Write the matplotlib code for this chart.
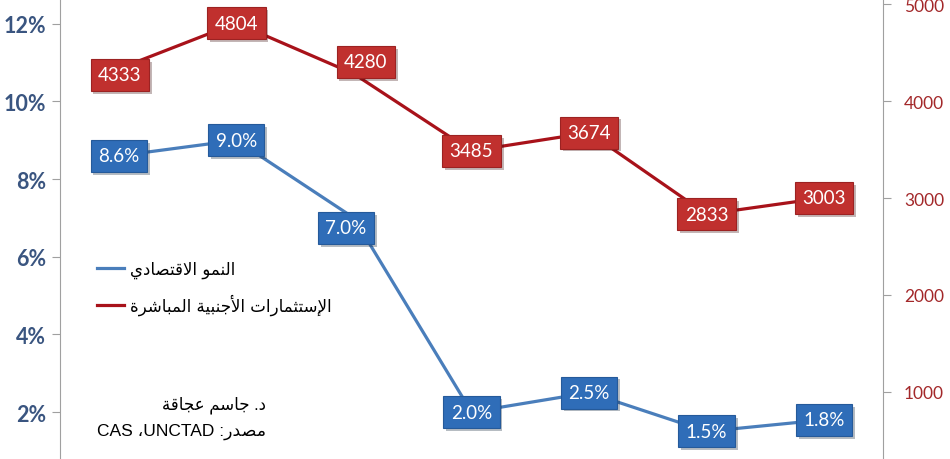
import re
import numpy as np
import matplotlib
matplotlib.use('Agg')
from matplotlib import pyplot as plt
from matplotlib import patheffects as pe

# values (x axis labels are cut off in the source)
growth = [8.6, 9.0, 7.0, 2.0, 2.5, 1.5, 1.8]          # % , left axis
fdi = [4333, 4804, 4280, 3485, 3674, 2833, 3003]      # right axis
left_ticks = [2, 4, 6, 8, 10, 12]
right_ticks = [1000, 2000, 3000, 4000, 5000]

name_growth = 'النمو الاقتصادي'
name_fdi = 'الإستثمارات الأجنبية المباشرة'
author = 'د. جاسم عجاقة'
source = 'مصدر: UNCTAD، CAS'

# matplotlib has no arabic shaping, so map letters to presentation forms
# (iso code point, number of forms: 2 = joins only to the right)
AR_FORMS = {
    'ا': (0xFE8D, 2), 'أ': (0xFE83, 2), 'إ': (0xFE87, 2), 'آ': (0xFE81, 2),
    'ب': (0xFE8F, 4), 'ة': (0xFE93, 2), 'ت': (0xFE95, 4), 'ث': (0xFE99, 4),
    'ج': (0xFE9D, 4), 'ح': (0xFEA1, 4), 'خ': (0xFEA5, 4), 'د': (0xFEA9, 2),
    'ذ': (0xFEAB, 2), 'ر': (0xFEAD, 2), 'ز': (0xFEAF, 2), 'س': (0xFEB1, 4),
    'ش': (0xFEB5, 4), 'ص': (0xFEB9, 4), 'ض': (0xFEBD, 4), 'ط': (0xFEC1, 4),
    'ظ': (0xFEC5, 4), 'ع': (0xFEC9, 4), 'غ': (0xFECD, 4), 'ف': (0xFED1, 4),
    'ق': (0xFED5, 4), 'ك': (0xFED9, 4), 'ل': (0xFEDD, 4), 'م': (0xFEE1, 4),
    'ن': (0xFEE5, 4), 'ه': (0xFEE9, 4), 'و': (0xFEED, 2), 'ى': (0xFEEF, 2),
    'ي': (0xFEF1, 4),
}
LAM_ALEF = {'آ': 0xFEF5, 'أ': 0xFEF7, 'إ': 0xFEF9, 'ا': 0xFEFB}


def shape(text):
    out = []
    i = 0
    while i < len(text):
        c = text[i]
        if c not in AR_FORMS:
            out.append(c)
            i += 1
            continue
        prev = text[i - 1] if i > 0 else ''
        nxt = text[i + 1] if i + 1 < len(text) else ''
        joins_prev = prev in AR_FORMS and AR_FORMS[prev][1] == 4
        if c == 'ل' and nxt in LAM_ALEF:
            out.append(chr(LAM_ALEF[nxt] + int(joins_prev)))
            i += 2
            continue
        base, n = AR_FORMS[c]
        joins_next = n == 4 and nxt in AR_FORMS
        k = {(False, False): 0, (True, False): 1,
             (False, True): 2, (True, True): 3}[(joins_prev, joins_next)]
        out.append(chr(base + k))
        i += 1
    return ''.join(out)


def visual(text):
    s = shape(text)[::-1]
    # latin runs keep their own reading order
    return re.sub(r'[A-Za-z0-9]+', lambda m: m.group(0)[::-1], s)


blue_line = '#4a7ebb'
red_line = '#a8121a'
blue_box = '#2f6db8'
red_box = '#c0302e'

fig = plt.figure(figsize=(9.5, 4.6), dpi=100)
ax = fig.add_axes([60 / 950, 0, 823 / 950, 1])
ax2 = ax.twinx()

x = np.arange(len(growth))
l1, = ax.plot(x, growth, color=blue_line, lw=2.3, label=visual(name_growth))
l2, = ax2.plot(x, fdi, color=red_line, lw=2.3, label=visual(name_fdi))

ax.set_xlim(-0.5, len(x) - 0.5)
ax.set_ylim(0.79, 12.64)
ax2.set_ylim(309, 5052)
ax.set_xticks([])

ax.set_yticks(left_ticks)
ax.set_yticklabels(['%d%%' % t for t in left_ticks])
ax2.set_yticks(right_ticks)

for a in (ax, ax2):
    for s in ('top', 'bottom'):
        a.spines[s].set_visible(False)
ax.spines['left'].set_color('#a0a0a0')
ax.spines['right'].set_visible(False)
ax2.spines['left'].set_visible(False)
ax2.spines['right'].set_color('#a0a0a0')

ax.tick_params(axis='y', direction='out', length=6, color='#a0a0a0', pad=4,
               labelsize=15.5, labelcolor='#3a5580')
for t in ax.get_yticklabels():
    t.set_fontweight('bold')
    t.set_family('Lato')
ax2.tick_params(axis='y', direction='out', length=6, color='#a0a0a0', pad=9,
                labelsize=12.5, labelcolor='#a3282a')
for t in ax2.get_yticklabels():
    t.set_family('Lato')

# label boxes, a few were dragged a little in the original
nudge_growth = {2: (-8, -10)}
nudge_fdi = {0: (1, -6), 2: (12, 12)}


def box_label(axis, xi, yi, txt, fc, ec, nudge):
    an = axis.annotate(txt, (xi, yi), xytext=nudge, textcoords='offset pixels',
                       ha='center', va='center', color='white', fontsize=13.5,
                       family='Lato', zorder=5,
                       bbox=dict(boxstyle='square,pad=0.4', fc=fc,
                                 ec=ec, lw=0.8))
    an.get_bbox_patch().set_path_effects(
        [pe.SimplePatchShadow(offset=(2, -2), alpha=0.3), pe.Normal()])


for i, v in enumerate(growth):
    box_label(ax, x[i], v, '%.1f%%' % v, blue_box, '#255a9a',
              nudge_growth.get(i, (0, 0)))
for i, v in enumerate(fdi):
    box_label(ax2, x[i], v, '%d' % v, red_box, '#9c2222',
              nudge_fdi.get(i, (0, 0)))

leg = ax2.legend(handles=[l1, l2], loc='upper left', frameon=False,
                 bbox_to_anchor=(82 / 950, 1 - 246 / 460),
                 bbox_transform=fig.transFigure,
                 prop={'family': 'DejaVu Sans', 'size': 12},
                 handlelength=1.6, handletextpad=0.4, labelspacing=0.9)

fig.text(266 / 950, 1 - 405 / 460, visual(author), ha='right', va='center',
         fontsize=12, family=['Liberation Sans', 'DejaVu Sans'])
fig.text(266 / 950, 1 - 432 / 460, visual(source), ha='right', va='center',
         fontsize=12.5, family=['Liberation Sans', 'DejaVu Sans'])

fig.savefig('out.png', dpi=100)
